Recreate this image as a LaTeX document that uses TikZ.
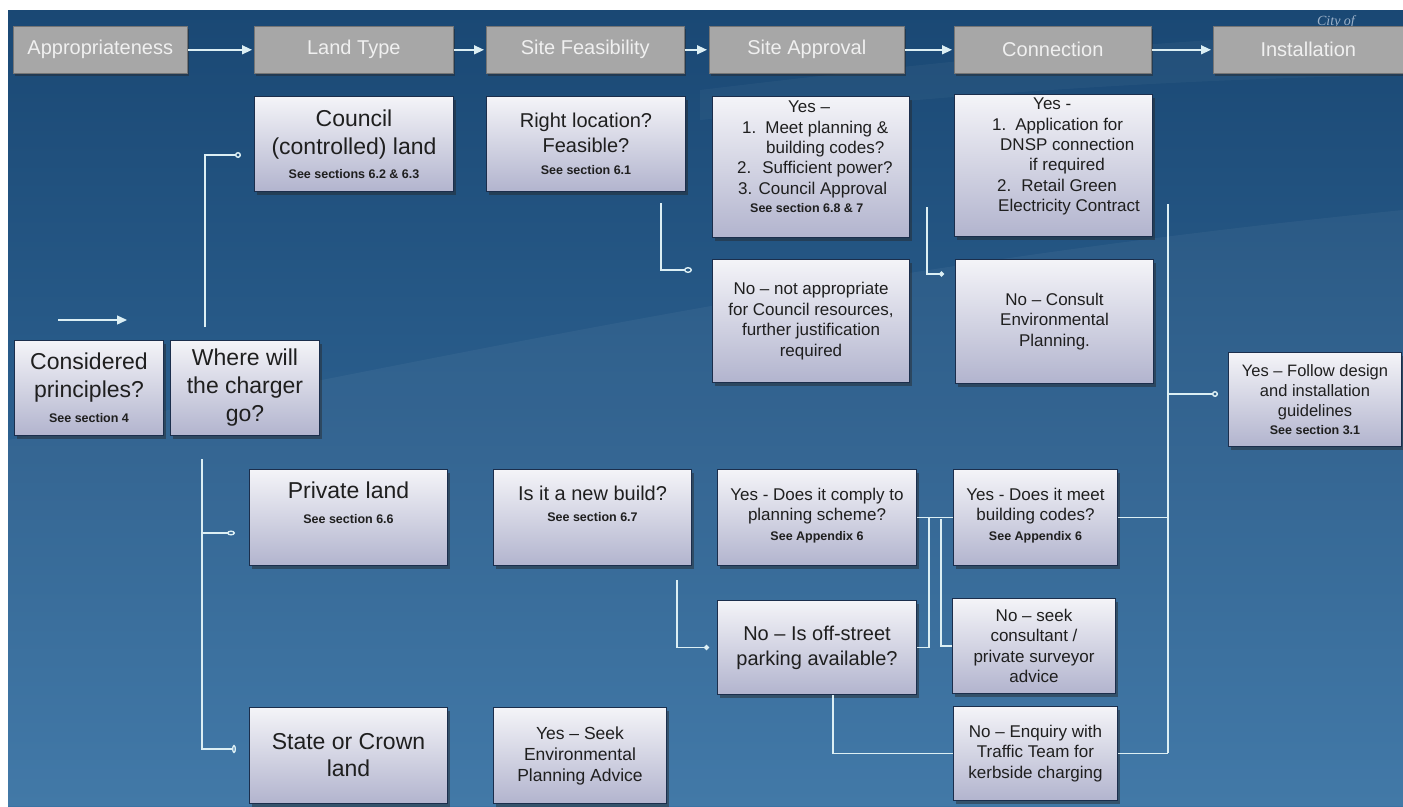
\documentclass[tikz,border=0pt]{standalone}
\usepackage{fontspec}
\setmainfont{Liberation Sans}
\newfontfamily\cityfont{Liberation Serif}
\usetikzlibrary{arrows.meta,shadows,calc}
\definecolor{bgtop}{HTML}{1A4874}
\definecolor{bgmid}{HTML}{245887}
\definecolor{bgbot}{HTML}{3A73A4}
\definecolor{boxtop}{HTML}{F4F4F8}
\definecolor{boxbot}{HTML}{B2B4CE}
\definecolor{boxline}{HTML}{1B2E4C}
\definecolor{hdrfill}{HTML}{A7A7A7}
\definecolor{wirec}{HTML}{DCEFF4}
\definecolor{ink}{HTML}{1F1F1F}
\definecolor{cityc}{HTML}{9DB2C9}
\tikzset{
  box/.style={draw=boxline, line width=1pt, top color=boxtop, bottom color=boxbot,
    anchor=north west, inner sep=0pt,
    drop shadow={shadow xshift=2pt, shadow yshift=-3pt, opacity=0.45, fill=black!85}},
  hdr/.style={fill=hdrfill, draw=hdrfill!70!black, line width=0.6pt, anchor=north west,
    inner sep=0pt, text=white!94!black, font=\fontsize{20}{24}\selectfont,
    drop shadow={shadow xshift=2pt, shadow yshift=-3pt, opacity=0.45, fill=black!85}},
  big/.style={text=ink, align=center, inner sep=0pt, font=\fontsize{23}{28}\selectfont},
  med/.style={text=ink, align=center, inner sep=0pt, font=\fontsize{20}{25}\selectfont},
  sml/.style={text=ink, align=center, inner sep=0pt, font=\fontsize{17}{20.5}\selectfont},
  lst/.style={text=ink, align=left, inner sep=0pt, anchor=north west, font=\fontsize{17}{20.3}\selectfont},
  wire/.style={draw=wirec, line width=1.4pt},
  harrow/.style={wire, -{Triangle[length=10pt,width=9pt]}},
  opencirc/.style={wire, -{Circle[open,length=6pt,width=6pt]}},
  dotend/.style={wire, -{Circle[length=5pt,width=5pt]}},
}
\newcommand{\seesec}[1]{{\fontsize{12.5}{15}\selectfont\bfseries #1}}
\begin{document}
\begin{tikzpicture}[x=1pt,y=-1pt]
\useasboundingbox (0,0) rectangle (1403,806);
% background
\fill[white] (0,0) rectangle (1403,806);
\shade[top color=bgtop, middle color=bgmid, bottom color=bgbot] (8,10) rectangle (1403,806);
\fill[white, opacity=0.045] (8,440) .. controls (400,370) and (800,270) .. (1403,210) -- (1403,806) -- (8,806) -- cycle;
\fill[white, opacity=0.035] (700,90) .. controls (950,60) and (1150,40) .. (1403,30) -- (1403,75) .. controls (1150,80) and (950,95) .. (700,120) -- cycle;
\node[text=cityc, font=\cityfont\itshape\fontsize{14}{16}\selectfont, anchor=base] (city) at (1336,25) {City of};

% header row
\node[hdr, minimum width=174pt, minimum height=47pt] (hApp) at (13,26) {Appropriateness};
\node[hdr, minimum width=199pt, minimum height=47pt] (hLand) at (254,26) {Land Type};
\node[hdr, minimum width=198pt, minimum height=47pt] (hFeas) at (486,26) {Site Feasibility};
\node[hdr, minimum width=195pt, minimum height=47pt] (hAppr) at (709,26) {Site Approval};
\node[hdr, minimum width=197pt, minimum height=47pt] (hConn) at (954,26) {Connection};
\node[hdr, minimum width=196pt, minimum height=47pt, text width=190pt, align=center] (hInst) at (1213,26) {\hspace*{-6pt}Installation};
\draw[harrow] (hApp.east) -- ([xshift=-2pt]hLand.west);
\draw[harrow] (hLand.east) -- ([xshift=-2pt]hFeas.west);
\draw[harrow] (hFeas.east) -- ([xshift=-2pt]hAppr.west);
\draw[harrow] (hAppr.east) -- ([xshift=-2pt]hConn.west);
\draw[harrow] (hConn.east) -- ([xshift=-2pt]hInst.west);

% boxes
\node[box, minimum width=149pt, minimum height=95pt] (cons) at (14,340) {};
\node[box, minimum width=149pt, minimum height=95pt] (where) at (170,340) {};
\node[box, minimum width=199pt, minimum height=95pt] (council) at (254,96) {};
\node[box, minimum width=199pt, minimum height=95pt] (rightloc) at (486,96) {};
\node[box, minimum width=197pt, minimum height=141pt] (yesappr) at (712,96) {};
\node[box, minimum width=197pt, minimum height=123pt] (noapp) at (712,259) {};
\node[box, minimum width=198pt, minimum height=142pt] (yesconn) at (954,94) {};
\node[box, minimum width=198pt, minimum height=124pt] (noconsult) at (955,259) {};
\node[box, minimum width=173pt, minimum height=94pt] (follow) at (1228,352) {};
\node[box, minimum width=198pt, minimum height=96pt] (private) at (249,469) {};
\node[box, minimum width=198pt, minimum height=96pt] (newbuild) at (493,469) {};
\node[box, minimum width=199pt, minimum height=96pt] (comply) at (717,469) {};
\node[box, minimum width=164pt, minimum height=96pt] (meet) at (953,469) {};
\node[box, minimum width=199pt, minimum height=94pt] (offstreet) at (717,600) {};
\node[box, minimum width=163pt, minimum height=95pt] (consult) at (952,598) {};
\node[box, minimum width=164pt, minimum height=94pt] (enquiry) at (953,706) {};
\node[box, minimum width=198pt, minimum height=96pt] (state) at (249,707) {};
\node[box, minimum width=173pt, minimum height=96pt] (seek) at (493,707) {};

% texts
\node[big] (consT) at (cons.center) {Considered\\principles?\\[-3pt]\seesec{See section 4}};
\node[big] (whereT) at (where.center) {Where will\\the charger\\go?};
\node[big] (councilT) at (council.center) {Council\\(controlled) land\\[-3.5pt]\seesec{See sections 6.2 \& 6.3}};
\node[med] (rightlocT) at (rightloc.center) {Right location?\\Feasible?\\[-2.5pt]\seesec{See section 6.1}};
\node[lst] (yesapprT) at (737,101) {\hspace*{51pt}Yes –\\
\hspace*{5pt}1.\hspace*{9pt}Meet planning \&\\
\hspace*{29pt}building codes?\\
2.\hspace*{11pt}Sufficient power?\\
\hspace*{1pt}3. Council Approval\\[-1.5pt]
\hspace*{13pt}\seesec{See section 6.8 \& 7}};
\node[sml] (noappT) at (noapp.center) {No – not appropriate\\for Council resources,\\further justification\\required};
\node[lst] (yesconnT) at (992,98) {\hspace*{41pt}Yes -\\
1.\hspace*{9pt}Application for\\
\hspace*{8pt}DNSP connection\\
\hspace*{37pt}if required\\
\hspace*{5pt}2.\hspace*{10pt}Retail Green\\
\hspace*{6pt}Electricity Contract};
\node[sml] (noconsultT) at (noconsult.center) {No – Consult\\Environmental\\Planning.};
\node[sml, font=\fontsize{16.5}{20}\selectfont] (followT) at (follow.center) {Yes – Follow design\\and installation\\guidelines\\[-1.5pt]\seesec{See section 3.1}};
\node[big] (privateT) at ([yshift=15pt]private.center) {Private land\\[-3pt]\seesec{See section 6.6}};
\node[med] (newbuildT) at ([yshift=14pt]newbuild.center) {Is it a new build?\\[-4pt]\seesec{See section 6.7}};
\node[sml] (complyT) at ([yshift=2pt]comply.center) {Yes - Does it comply to\\planning scheme?\\[-1pt]\seesec{See Appendix 6}};
\node[sml] (meetT) at ([yshift=2pt]meet.center) {Yes - Does it meet\\building codes?\\[-1pt]\seesec{See Appendix 6}};
\node[med] (offstreetT) at (offstreet.center) {No – Is off-street\\parking available?};
\node[sml] (consultT) at (consult.center) {No – seek\\consultant /\\private surveyor\\advice};
\node[sml] (enquiryT) at (enquiry.center) {No – Enquiry with\\Traffic Team for\\kerbside charging};
\node[big, font=\fontsize{23}{27}\selectfont] (stateT) at (state.center) {State or Crown\\land};
\node[sml, font=\fontsize{17.5}{21}\selectfont] (seekT) at (seek.center) {Yes – Seek\\Environmental\\Planning Advice};

% connectors
\coordinate (sa1) at (58,320); \coordinate (sa2) at (127,320);
\draw[harrow] (sa1) -- (sa2);
\coordinate (w1) at (205,327); \coordinate (w1e) at (241,155);
\draw[opencirc] (w1) |- (w1e);
\coordinate (w2) at (202,459); \coordinate (w2m) at (202,533);
\coordinate (w2a) at (235,533); \coordinate (w2b) at (236,749);
\draw[wire, -{Ellipse[open,length=4pt,width=8pt]}] (w2) |- (w2b);
\draw[wire, -{Ellipse[open,length=8pt,width=5pt]}] (w2m) -- (w2a);
\coordinate (r1) at (661,203); \coordinate (r1e) at (692,270);
\draw[wire, -{Ellipse[open,length=8pt,width=6pt]}] (r1) |- (r1e);
\coordinate (a1) at (927,207); \coordinate (a1e) at (944,274);
\draw[dotend] (a1) |- (a1e);
\coordinate (bt) at (1168,204); \coordinate (bb) at (1168,753);
\coordinate (bf) at (1168,394); \coordinate (bfe) at (1218,394);
\draw[wire] (bt) -- (bb);
\draw[opencirc] (bf) -- (bfe);
\draw[wire] (meet.east) -- (meet.east -| bt);
\draw[wire] (enquiry.east) -- (enquiry.east -| bt);
\draw[wire] (comply.east) -- (meet.west);
\coordinate (j1) at (929,517);
\draw[wire] (offstreet.east) -| (j1);
\coordinate (j2) at (941,519);
\draw[wire] (j2) |- (consult.west);
\coordinate (n1) at (677,580);
\draw[dotend] (n1) |- ([xshift=-8pt]offstreet.west);
\draw[wire] ([xshift=16pt]offstreet.south) |- (enquiry.west);
\end{tikzpicture}
\end{document}
